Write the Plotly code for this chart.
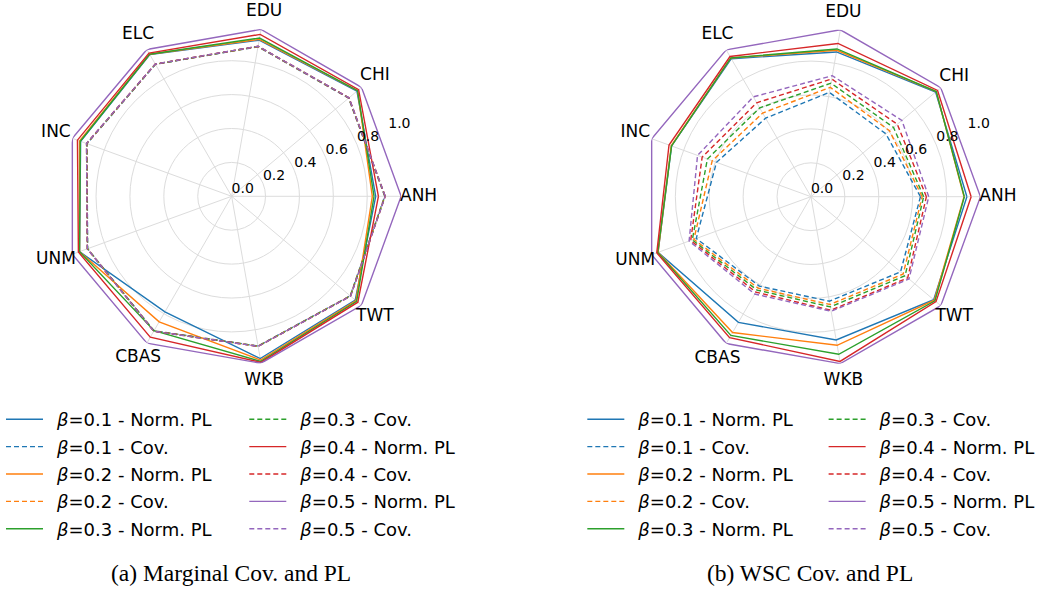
import plotly.graph_objects as go

# Radar axes: the nine indicators, placed counterclockwise starting on the right
categories = ["ANH", "CHI", "EDU", "ELC", "INC", "UNM", "CBAS", "WKB", "TWT"]
betas = ["0.1", "0.2", "0.3", "0.4", "0.5"]
radial_ticks = [0.0, 0.2, 0.4, 0.6, 0.8, 1.0]
radial_ticktext = ["0.0", "0.2", "0.4", "0.6", "0.8", "1.0"]

# (a) Marginal coverage and normalised pinball loss
marg_pl_01 = [0.850, 0.965, 0.935, 0.965, 0.948, 0.955, 0.787, 0.972, 0.952]
marg_pl_02 = [0.830, 0.970, 0.940, 0.968, 0.955, 0.955, 0.855, 0.981, 0.958]
marg_pl_03 = [0.840, 0.970, 0.948, 0.968, 0.950, 0.955, 0.915, 0.989, 0.963]
marg_pl_04 = [0.866, 0.978, 0.970, 0.975, 0.968, 0.962, 0.960, 0.995, 0.972]
marg_pl_05 = [1.000, 1.000, 1.000, 1.000, 1.000, 1.000, 1.000, 1.000, 1.000]

marg_cov_01 = [0.903, 0.901, 0.896, 0.899, 0.908, 0.904, 0.916, 0.897, 0.913]
marg_cov_02 = [0.904, 0.902, 0.897, 0.900, 0.909, 0.905, 0.917, 0.898, 0.914]
marg_cov_03 = [0.905, 0.903, 0.898, 0.900, 0.910, 0.905, 0.918, 0.898, 0.915]
marg_cov_04 = [0.906, 0.904, 0.899, 0.901, 0.911, 0.906, 0.919, 0.899, 0.916]
marg_cov_05 = [0.906, 0.904, 0.899, 0.901, 0.911, 0.906, 0.919, 0.899, 0.916]

# (b) Worst-slab coverage and normalised pinball loss
wsc_pl_01 = [0.920, 0.960, 0.867, 0.940, 0.875, 0.960, 0.856, 0.858, 0.945]
wsc_pl_02 = [0.903, 0.965, 0.877, 0.945, 0.877, 0.960, 0.925, 0.890, 0.950]
wsc_pl_03 = [0.905, 0.965, 0.885, 0.945, 0.875, 0.962, 0.945, 0.944, 0.955]
wsc_pl_04 = [0.945, 0.975, 0.918, 0.955, 0.891, 0.968, 0.960, 0.987, 0.963]
wsc_pl_05 = [1.000, 1.000, 1.000, 1.000, 1.000, 1.000, 1.000, 1.000, 1.000]

wsc_cov_01 = [0.646, 0.577, 0.625, 0.535, 0.593, 0.720, 0.609, 0.626, 0.690]
wsc_cov_02 = [0.656, 0.605, 0.655, 0.570, 0.620, 0.735, 0.623, 0.646, 0.710]
wsc_cov_03 = [0.665, 0.636, 0.680, 0.605, 0.650, 0.745, 0.636, 0.660, 0.725]
wsc_cov_04 = [0.681, 0.665, 0.705, 0.640, 0.683, 0.755, 0.650, 0.680, 0.745]
wsc_cov_05 = [0.695, 0.700, 0.725, 0.680, 0.712, 0.765, 0.663, 0.686, 0.755]

colors = ["#1f77b4", "#ff7f0e", "#2ca02c", "#d62728", "#9467bd"]

# angle (degrees) of each indicator spoke
angles = [i * 360.0 / len(categories) for i in range(len(categories))]
RLABEL_ANGLE = 22.5      # direction along which the radial tick labels sit
CAT_LABEL_R = 1.103      # radius at which indicator names are centred
LABEL_RMAX = 1.15        # radial extent of the (invisible) label layer

W, H = 1040, 590
R = 170.0                # pixel radius of r = 1 on the data axes
centers = [(232.3, 196.3), (813.3, 196.7)]

panels = [
    ("polar", "polar3", [marg_pl_01, marg_pl_02, marg_pl_03, marg_pl_04, marg_pl_05],
     [marg_cov_01, marg_cov_02, marg_cov_03, marg_cov_04, marg_cov_05],
     ("legend", "legend2")),
    ("polar2", "polar4", [wsc_pl_01, wsc_pl_02, wsc_pl_03, wsc_pl_04, wsc_pl_05],
     [wsc_cov_01, wsc_cov_02, wsc_cov_03, wsc_cov_04, wsc_cov_05],
     ("legend3", "legend4")),
]

fig = go.Figure()

for subplot, label_layer, pl_series, cov_series, (leg_a, leg_b) in panels:
    entry = 0
    for beta, color, pl, cov in zip(betas, colors, pl_series, cov_series):
        for kind, values, dash in (("Norm. PL", pl, "solid"), ("Cov.", cov, "5px,3px")):
            legend = leg_a if entry < 5 else leg_b
            fig.add_trace(go.Scatterpolar(
                r=values + values[:1],
                theta=angles + angles[:1],
                mode="lines",
                line=dict(color=color, width=1.4, dash=dash),
                name=f"\u2002<i>β</i>={beta} - {kind}",
                legend=legend,
                legendgroup=f"{subplot}-{entry}",
                subplot=subplot,
                hoverinfo="skip",
            ))
            entry += 1

    # radial tick labels, laid along the 22.5 degree direction
    fig.add_trace(go.Scatterpolar(
        r=radial_ticks,
        theta=[RLABEL_ANGLE] * len(radial_ticks),
        mode="text",
        text=radial_ticktext,
        textposition="top right",
        textfont=dict(family="DejaVu Sans", size=14, color="black"),
        showlegend=False,
        cliponaxis=False,
        hoverinfo="skip",
        subplot=subplot,
    ))
    # indicator names just outside each spoke (on a wider, invisible layer)
    fig.add_trace(go.Scatterpolar(
        r=[CAT_LABEL_R] * len(categories),
        theta=angles,
        mode="text",
        text=categories,
        textposition="middle center",
        textfont=dict(family="DejaVu Sans", size=17, color="black"),
        showlegend=False,
        cliponaxis=False,
        hoverinfo="skip",
        subplot=label_layer,
    ))


def polar_domain(cx, cy, rad):
    return dict(x=[(cx - rad) / W, (cx + rad) / W], y=[1 - (cy + rad) / H, 1 - (cy - rad) / H])


def polar_layout(cx, cy):
    return dict(
        domain=polar_domain(cx, cy, R),
        bgcolor="white",
        gridshape="linear",
        angularaxis=dict(
            direction="counterclockwise",
            rotation=0,
            thetaunit="degrees",
            tickmode="array",
            tickvals=angles,
            showticklabels=False,
            showline=False,
            ticks="",
            gridcolor="#dcdcdc",
            gridwidth=1,
        ),
        radialaxis=dict(
            range=[0, 1],
            tickvals=radial_ticks,
            showticklabels=False,
            angle=RLABEL_ANGLE,
            showline=False,
            ticks="",
            gridcolor="#dcdcdc",
            gridwidth=1,
        ),
    )


def label_layer_layout(cx, cy):
    return dict(
        domain=polar_domain(cx, cy, R * LABEL_RMAX),
        bgcolor="rgba(0,0,0,0)",
        angularaxis=dict(direction="counterclockwise", rotation=0, thetaunit="degrees",
                         visible=False),
        radialaxis=dict(range=[0, LABEL_RMAX], visible=False),
    )


legend_style = dict(
    orientation="v",
    xanchor="left",
    yanchor="top",
    bgcolor="rgba(0,0,0,0)",
    font=dict(family="DejaVu Sans", size=18, color="black"),
    tracegroupgap=1,
    itemwidth=37,
)

fig.update_layout(
    width=W,
    height=H,
    margin=dict(l=0, r=0, t=0, b=0),
    paper_bgcolor="white",
    plot_bgcolor="white",
    polar=polar_layout(*centers[0]),
    polar2=polar_layout(*centers[1]),
    polar3=label_layer_layout(*centers[0]),
    polar4=label_layer_layout(*centers[1]),
    legend=dict(x=1 / W, y=1 - 401 / H, **legend_style),
    legend2=dict(x=245 / W, y=1 - 401 / H, **legend_style),
    legend3=dict(x=584 / W, y=1 - 401 / H, **legend_style),
    legend4=dict(x=826 / W, y=1 - 401 / H, **legend_style),
    annotations=[
        dict(text="(a) Marginal Cov. and PL", x=231.7 / W, y=1 - 573 / H,
             xref="paper", yref="paper", xanchor="center", yanchor="middle",
             showarrow=False,
             font=dict(family="Liberation Serif", size=23.5, color="black")),
        dict(text="(b) WSC Cov. and PL", x=812.5 / W, y=1 - 573 / H,
             xref="paper", yref="paper", xanchor="center", yanchor="middle",
             showarrow=False,
             font=dict(family="Liberation Serif", size=23.5, color="black")),
    ],
)

fig.write_html("out.html")
